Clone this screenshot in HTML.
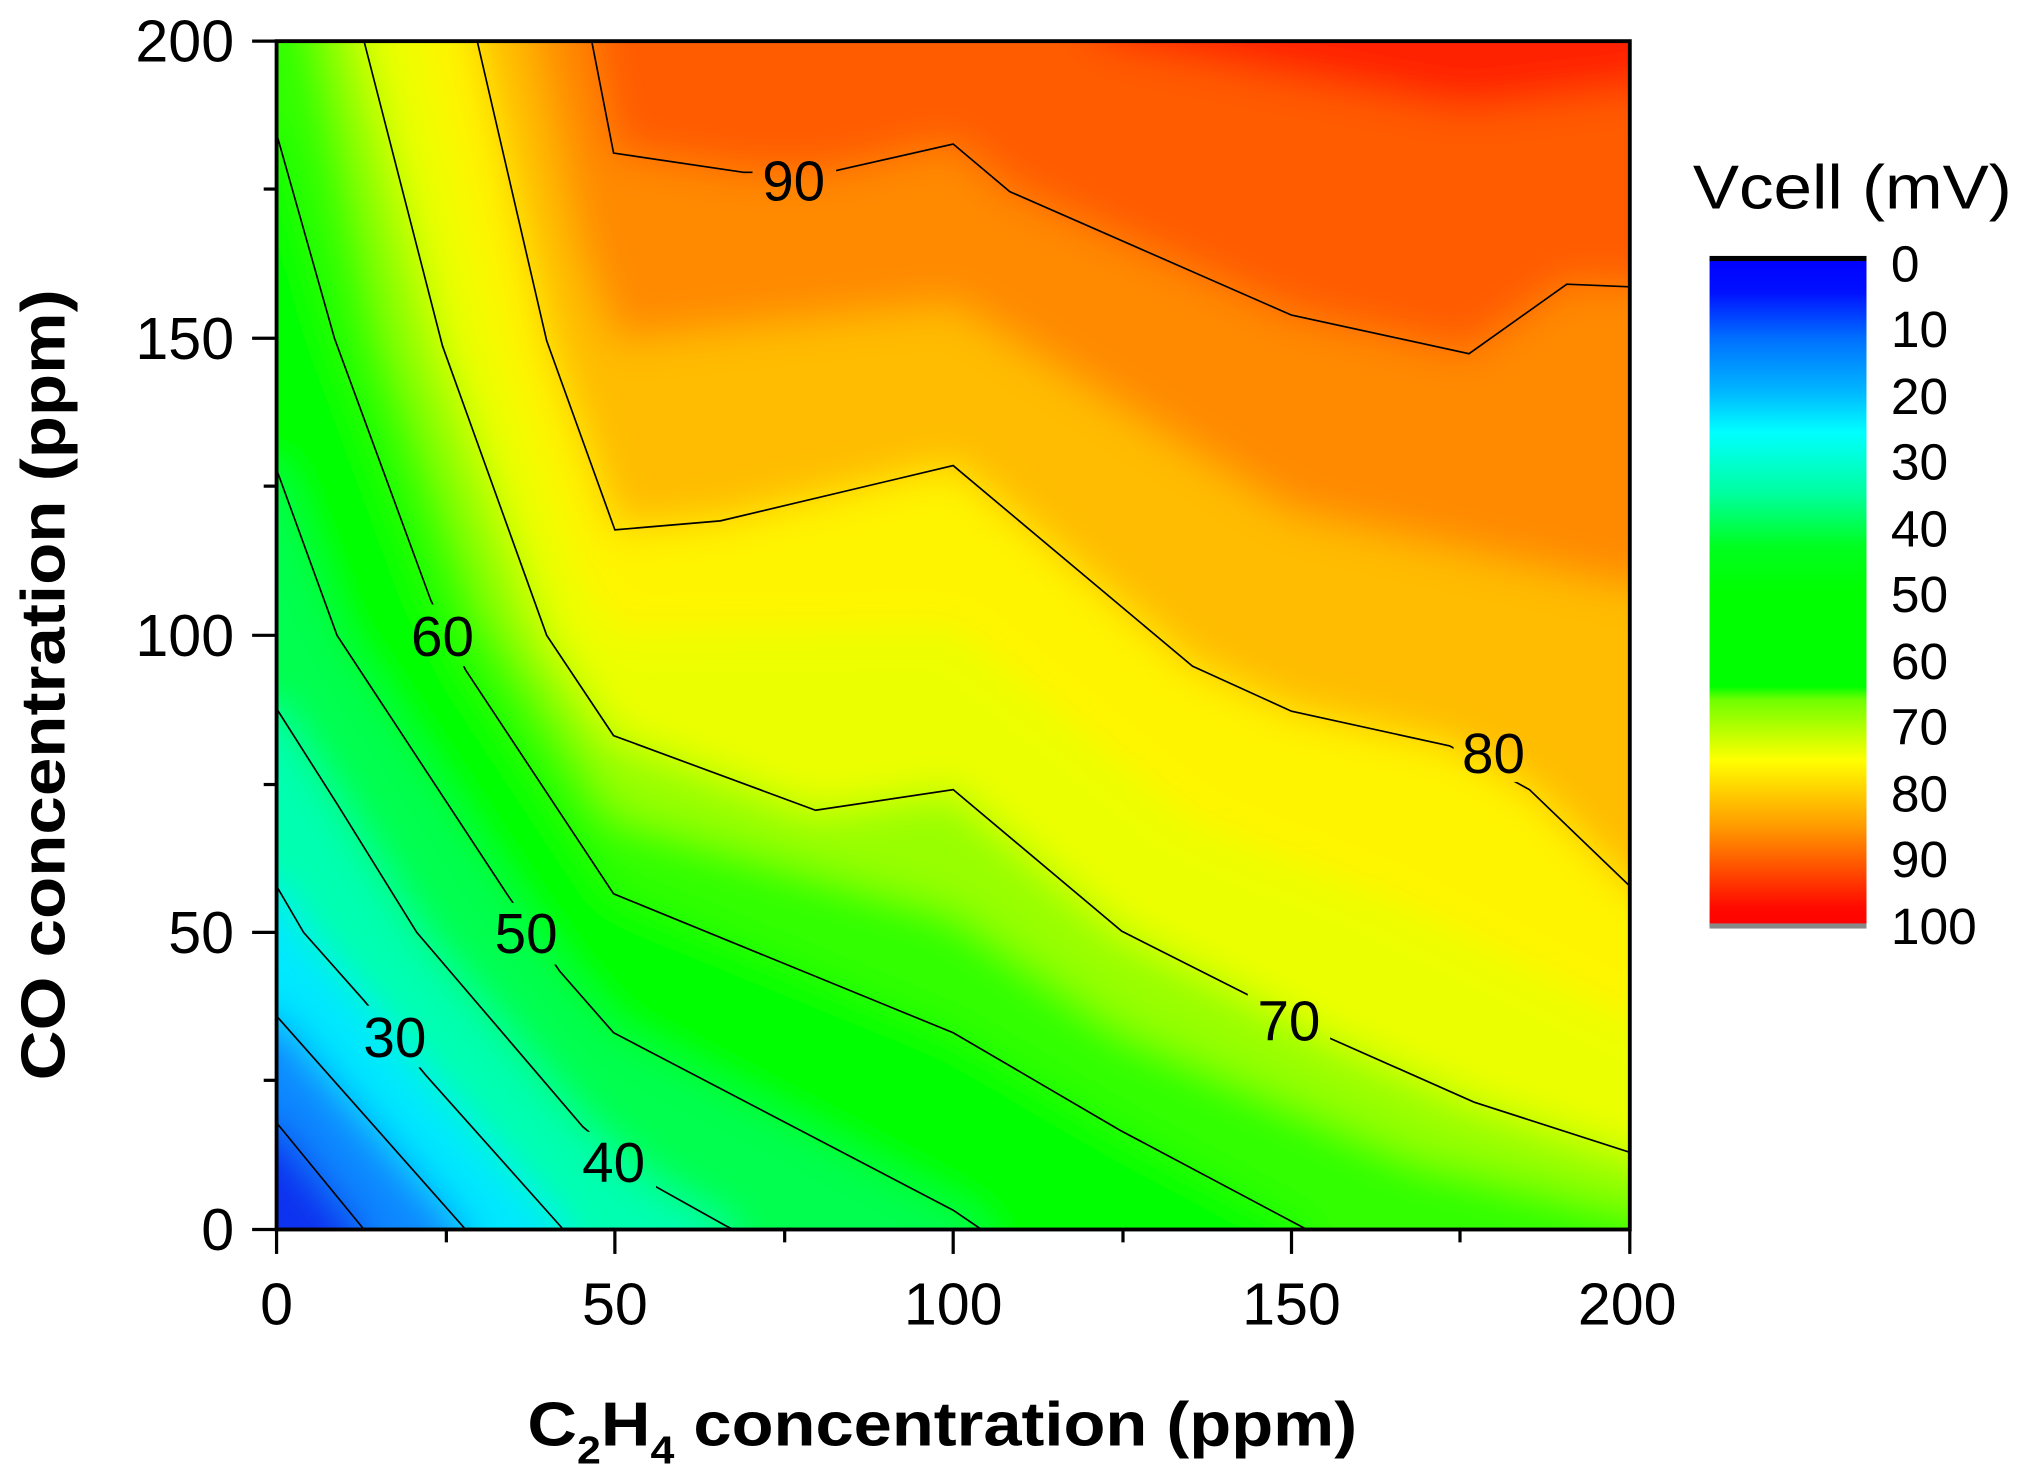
<!DOCTYPE html>
<html><head><meta charset="utf-8"><style>html,body{margin:0;padding:0;background:#fff}svg{display:block}</style></head>
<body>
<svg width="2017" height="1479" viewBox="0 0 1568 1150" preserveAspectRatio="none" xmlns="http://www.w3.org/2000/svg" font-family="Liberation Sans, Arial, sans-serif">
<defs>
<clipPath id="pc"><rect x="215" y="32" width="1052" height="924"/></clipPath>
<filter id="bl" x="-10%" y="-10%" width="120%" height="120%"><feGaussianBlur stdDeviation="16"/></filter>
<mask id="lm">
<rect x="0" y="0" width="1568" height="1150" fill="#fff"/>
<rect x="585" y="118" width="65" height="45" fill="#000"/>
<rect x="312" y="470" width="65" height="48" fill="#000"/>
<rect x="376" y="702" width="66" height="48" fill="#000"/>
<rect x="275" y="782" width="64" height="48" fill="#000"/>
<rect x="444" y="880" width="66" height="48" fill="#000"/>
<rect x="970" y="770" width="64" height="46" fill="#000"/>
<rect x="1130" y="562" width="64" height="46" fill="#000"/>
</mask>
<linearGradient id="cb" x1="0" y1="0" x2="0" y2="1">
<stop offset="0" stop-color="#0000ff"/>
<stop offset="0.05" stop-color="#0010ff"/>
<stop offset="0.12" stop-color="#0070ff"/>
<stop offset="0.2" stop-color="#00b8ff"/>
<stop offset="0.26" stop-color="#00ffff"/>
<stop offset="0.35" stop-color="#00ffa0"/>
<stop offset="0.43" stop-color="#00ff20"/>
<stop offset="0.5" stop-color="#00ff00"/>
<stop offset="0.64" stop-color="#00ff00"/>
<stop offset="0.66" stop-color="#70ff00"/>
<stop offset="0.75" stop-color="#ffff00"/>
<stop offset="0.85" stop-color="#ff9a00"/>
<stop offset="0.97" stop-color="#ff0a00"/>
<stop offset="1" stop-color="#ff0000"/>
</linearGradient>
</defs>

<g clip-path="url(#pc)">
<g filter="url(#bl)">
<rect x="150" y="-40" width="1200" height="1060" fill="#0a30f0"/>
<polygon fill="#0a88ff" points="150,873 215,873 283,956 290,1020 1340,1020 1340,-40 150,-40"/>
<polygon fill="#00e8ff" points="150,790 215,790 362,956 370,1020 1340,1020 1340,-40 150,-40"/>
<polygon fill="#00ffb0" points="150,689 215,689 236,725 283,778 331,836 438,956 445,1020 1340,1020 1340,-40 150,-40"/>
<polygon fill="#00ff50" points="150,551 215,551 262,625 324,725 453,876 505,920 564,953 575,1020 1340,1020 1340,-40 150,-40"/>
<polygon fill="#00ff00" points="150,365 215,365 262,494 394,695 435,755 477,803 741,941 763,956 770,1020 1340,1020 1340,-40 150,-40"/>
<polygon fill="#30ff00" points="150,104 215,104 260,263 335,467 362,521 477,695 741,803 871,879 1016,956 1030,1020 1340,1020 1340,-40 150,-40"/>
<polygon fill="#98ff00" points="240,-40 249,32 302,266 380,480 477,633 741,708 872,800 1100,900 1267,940 1340,960 1340,-40"/>
<polygon fill="#ecff00" points="270,-40 283,32 344,269 425,494 477,572 634,630 741,614 872,724 975,776 1031,806 1146,857 1267,896 1340,920 1340,-40"/>
<polygon fill="#fff400" points="315,-40 327,32 385,267 451,453 478,492 741,488 927,640 1080,700 1267,792 1340,820 1340,-40"/>
<polygon fill="#ffbc00" points="360,-40 371,32 425,265 478,412 560,405 741,362 927,518 1004,553 1127,580 1189,614 1267,689 1340,740 1340,-40"/>
<polygon fill="#ff8a00" points="405,-40 415,32 451,192 478,265 741,237 1004,399 1189,440 1267,456 1340,460 1340,-40"/>
<polygon fill="#ff5c00" points="455,-40 460,32 477,119 578,134 644,134 741,112 785,149 1004,245 1142,275 1218,221 1267,223 1340,223 1340,-40"/>
<polygon fill="#ff2200" points="800,-40 860,32 1000,60 1140,85 1267,70 1340,60 1340,-40"/>
</g>
</g>

<g clip-path="url(#pc)" mask="url(#lm)" fill="none" stroke="#000" stroke-width="1.3">
<polyline points="215,873 283,956"/>
<polyline points="215,790 362,956"/>
<polyline points="215,689 236,725 283,778 331,836 438,956"/>
<polyline points="215,551 262,625 324,725 453,876 505,920 564,953 570,956"/>
<polyline points="215,365 262,494 394,695 435,755 477,803 741,941 763,956"/>
<polyline points="215,104 260,263 335,467 362,521 477,695 741,803 871,879 1016,956"/>
<polyline points="283,32 344,269 425,494 477,572 634,630 741,614 872,724 975,776 1031,806 1146,857 1267,896"/>
<polyline points="371,32 425,265 478,412 560,405 741,362 927,518 1004,553 1127,580 1189,614 1267,689"/>
<polyline points="460,32 477,119 578,134 644,134 741,112 785,149 1004,245 1142,275 1218,221 1267,223"/>
</g>

<g font-size="44" fill="#000" text-anchor="middle">
<text x="617" y="156">90</text>
<text x="344" y="510">60</text>
<text x="409" y="741">50</text>
<text x="307" y="822">30</text>
<text x="477" y="919">40</text>
<text x="1002" y="809">70</text>
<text x="1161" y="601">80</text>
</g>

<rect x="215" y="32" width="1052" height="924" fill="none" stroke="#000" stroke-width="3"/>
<g stroke="#000" stroke-width="2.5">
<line x1="215" y1="956" x2="215" y2="975"/><line x1="347" y1="956" x2="347" y2="966"/>
<line x1="478" y1="956" x2="478" y2="975"/><line x1="610" y1="956" x2="610" y2="966"/>
<line x1="741" y1="956" x2="741" y2="975"/><line x1="873" y1="956" x2="873" y2="966"/>
<line x1="1004" y1="956" x2="1004" y2="975"/><line x1="1135" y1="956" x2="1135" y2="966"/>
<line x1="1267" y1="956" x2="1267" y2="975"/>
<line x1="196" y1="956" x2="215" y2="956"/><line x1="205" y1="840" x2="215" y2="840"/>
<line x1="196" y1="725" x2="215" y2="725"/><line x1="205" y1="610" x2="215" y2="610"/>
<line x1="196" y1="494" x2="215" y2="494"/><line x1="205" y1="378" x2="215" y2="378"/>
<line x1="196" y1="263" x2="215" y2="263"/><line x1="205" y1="147" x2="215" y2="147"/>
<line x1="196" y1="32" x2="215" y2="32"/>
</g>

<g font-size="46" fill="#000" text-anchor="end">
<text x="182" y="48">200</text>
<text x="182" y="279">150</text>
<text x="182" y="510">100</text>
<text x="182" y="741">50</text>
<text x="182" y="972">0</text>
</g>
<g font-size="46" fill="#000" text-anchor="middle">
<text x="215" y="1030">0</text>
<text x="478" y="1030">50</text>
<text x="741" y="1030">100</text>
<text x="1004" y="1030">150</text>
<text x="1265" y="1030">200</text>
</g>

<text x="410" y="1124" font-size="48" font-weight="bold" textLength="645" lengthAdjust="spacingAndGlyphs">C<tspan font-size="30" dy="14">2</tspan><tspan dy="-14">H</tspan><tspan font-size="30" dy="14">4</tspan><tspan dy="-14"> concentration (ppm)</tspan></text>
<text transform="translate(50,840) rotate(-90)" x="0" y="0" font-size="48" font-weight="bold" textLength="615" lengthAdjust="spacingAndGlyphs">CO concentration (ppm)</text>

<text x="1316" y="162" font-size="48" textLength="248" lengthAdjust="spacingAndGlyphs">Vcell (mV)</text>
<rect x="1329" y="201" width="122" height="520" fill="url(#cb)"/>
<rect x="1329" y="199" width="122" height="4" fill="#000"/>
<rect x="1329" y="718" width="122" height="4" fill="#888"/>
<g font-size="40" fill="#000">
<text x="1470" y="219">0</text>
<text x="1470" y="270">10</text>
<text x="1470" y="322">20</text>
<text x="1470" y="373">30</text>
<text x="1470" y="425">40</text>
<text x="1470" y="476">50</text>
<text x="1470" y="528">60</text>
<text x="1470" y="579">70</text>
<text x="1470" y="631">80</text>
<text x="1470" y="682">90</text>
<text x="1470" y="734">100</text>
</g>
</svg>
</body></html>
